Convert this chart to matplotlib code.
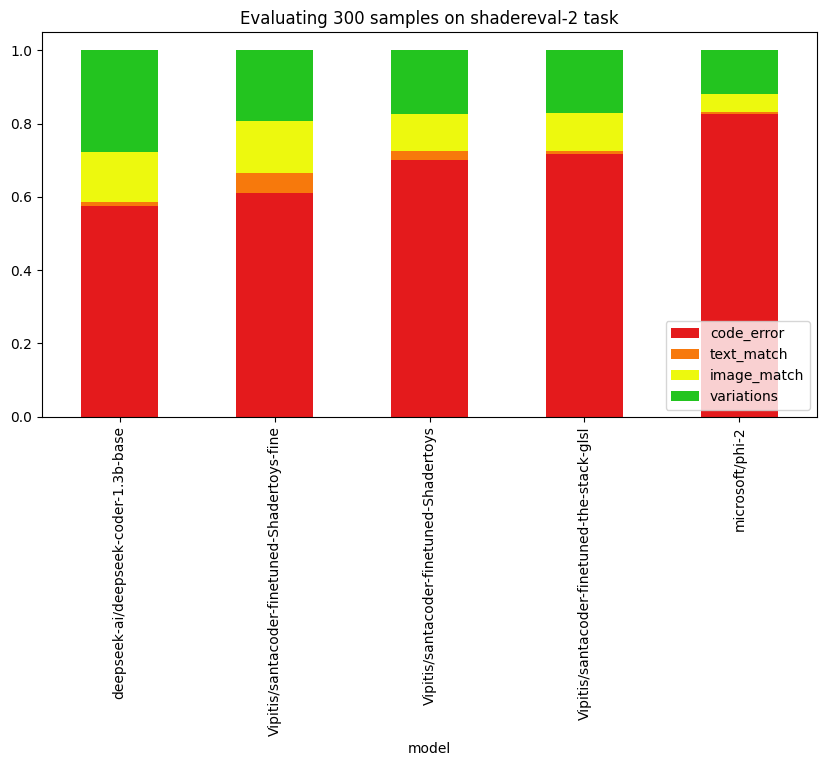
import matplotlib
matplotlib.use("Agg")
import matplotlib.pyplot as plt
import pandas as pd

# model names
models = [
    "deepseek-ai/deepseek-coder-1.3b-base",
    "Vipitis/santacoder-finetuned-Shadertoys-fine",
    "Vipitis/santacoder-finetuned-Shadertoys",
    "Vipitis/santacoder-finetuned-the-stack-glsl",
    "microsoft/phi-2",
]

# counts out of 300 samples
code_error = [173, 183, 210, 215, 248]
text_match = [3, 17, 8, 3, 2]
image_match = [41, 42, 30, 31, 14]
variations = [83, 58, 52, 51, 36]
n_samples = 300

colors = ["#e41a1c", "#f7790c", "#edf90e", "#23c41f"]

df = pd.DataFrame({
    "code_error": code_error,
    "text_match": text_match,
    "image_match": image_match,
    "variations": variations,
}, index=pd.Index(models, name="model")) / n_samples

fig, ax = plt.subplots(figsize=(8.26, 7.66), dpi=100)
df.plot(kind="bar", stacked=True, color=colors, ax=ax)
ax.set_title("Evaluating 300 samples on shadereval-2 task")
ax.legend(loc="lower right")
plt.subplots_adjust(left=0.051, right=0.989, top=0.958, bottom=0.456)
fig.savefig("out.png", dpi=100)
